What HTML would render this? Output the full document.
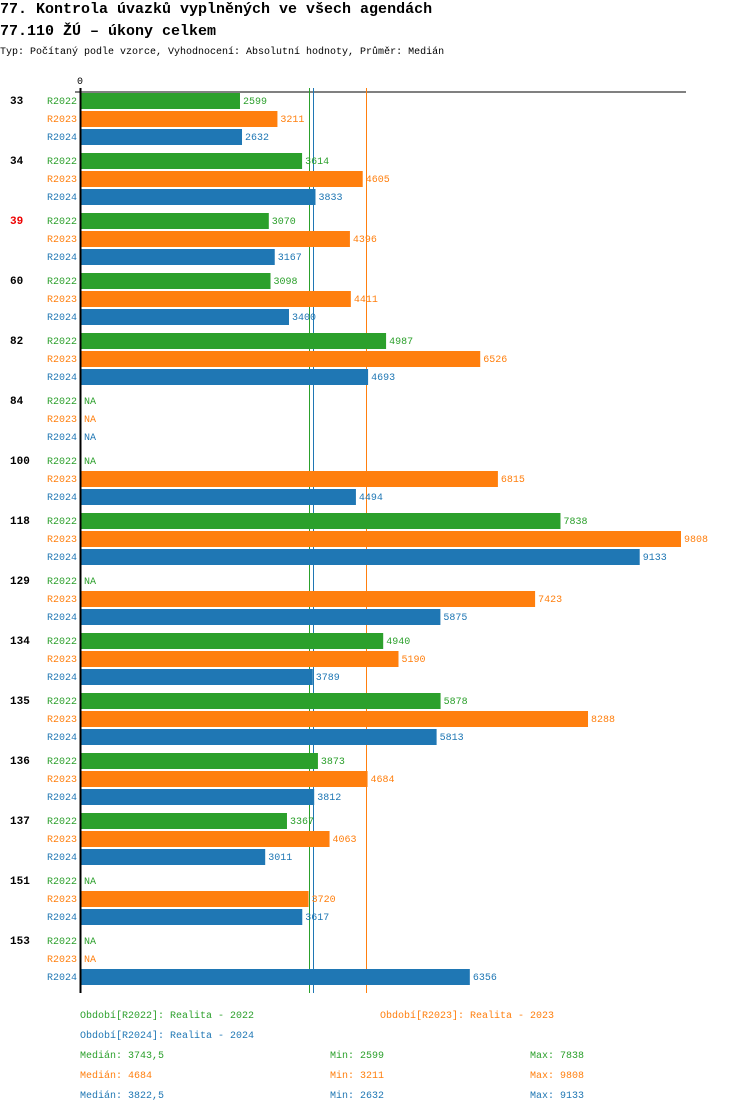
<!DOCTYPE html>
<html><head><meta charset="utf-8"><style>
body{margin:0;background:#fff;}
svg text{font-family:"Liberation Mono",monospace;}
</style></head><body>
<svg width="750" height="1112" xmlns="http://www.w3.org/2000/svg" id="chart">
<text x="0" y="13" font-size="15" font-weight="bold">77. Kontrola úvazků vyplněných ve všech agendách</text>
<text x="0" y="35" font-size="15" font-weight="bold">77.110 ŽÚ – úkony celkem</text>
<text x="0" y="54" font-size="10">Typ: Počítaný podle vzorce, Vyhodnocení: Absolutní hodnoty, Průměr: Medián</text>
<text x="77" y="84" font-size="10">0</text>
<line x1="75" y1="92" x2="686" y2="92" stroke="#000" stroke-width="1"/>
<g id="marks"></g>
<line x1="80.5" y1="88" x2="80.5" y2="993" stroke="#000" stroke-width="2"/>
<g id="legend"></g>
</svg>
<script>
const categories=["33","34","39","60","82","84","100","118","129","134","135","136","137","151","153"];
const r2022=[2599,3614,3070,3098,4987,null,null,7838,null,4940,5878,3873,3367,null,null];
const r2023=[3211,4605,4396,4411,6526,null,6815,9808,7423,5190,8288,4684,4063,3720,null];
const r2024=[2632,3833,3167,3400,4693,null,4494,9133,5875,3789,5813,3812,3011,3617,6356];
const seriesNames=["R2022","R2023","R2024"];
const medians=[3743.5,4684,3822.5];
const mins=[2599,3211,2632];
const maxs=[7838,9808,9133];
const medianLabels=["3743,5","4684","3822,5"];
const colors=["#2ca02c","#ff7f0e","#1f77b4"];
const NS="http://www.w3.org/2000/svg";
const x0=81, scale=600/9808;
const xs=v=>x0+v*scale;
const ys=(g,k)=>93+g*60+k*18;
const marks=document.getElementById('marks');
function mk(tag,attrs,parent,text){const e=document.createElementNS(NS,tag);for(const a in attrs)e.setAttribute(a,attrs[a]);if(text!==undefined)e.textContent=text;parent.appendChild(e);return e;}
const series=[r2022,r2023,r2024];
medians.forEach((m,i)=>{
  const px=Math.round(x0+m*0.0608)+0.5;
  const l=mk('line',{x1:px,x2:px,y1:88,y2:993,stroke:colors[i],'stroke-width':1},marks);
  
  
});
categories.forEach((c,g)=>{
  const t=mk('text',{x:10,y:ys(g,0)+11,'font-size':11,'font-weight':'bold',fill:c==="39"?"#e00":"#000"},marks,c);
  
  
  series.forEach((s,k)=>{
    const y=ys(g,k);
    const lt=mk('text',{x:47,y:y+11,'font-size':10,fill:colors[k]},marks,seriesNames[k]);
    
    
    const v=s[g];
    if(v===null){
      const na=mk('text',{x:84,y:y+11,'font-size':10,fill:colors[k]},marks,'NA');
      
      
    }else{
      const r=mk('rect',{x:x0,y:y,width:xs(v)-x0,height:16,fill:colors[k]},marks);
      
      
      const vt=mk('text',{x:xs(v)+3,y:y+11,'font-size':10,fill:colors[k]},marks,String(v));
      
      
    }
  });
});
const lg=document.getElementById('legend');
const legendItems=[[80,1018,0,"Období[R2022]: Realita - 2022"],[380,1018,1,"Období[R2023]: Realita - 2023"],[80,1038,2,"Období[R2024]: Realita - 2024"]];
legendItems.forEach(it=>{
  const t=mk('text',{x:it[0],y:it[1],'font-size':10,fill:colors[it[2]]},lg,it[3]);
  
  
});
seriesNames.forEach((n,i)=>{
  const y=1058+i*20;
  const a=mk('text',{x:80,y:y,'font-size':10,fill:colors[i]},lg,'Medián: '+medianLabels[i]);
  
  
  const b=mk('text',{x:330,y:y,'font-size':10,fill:colors[i]},lg,'Min: '+mins[i]);
  
  
  const d=mk('text',{x:530,y:y,'font-size':10,fill:colors[i]},lg,'Max: '+maxs[i]);
  
  
});
</script>
</body></html>
